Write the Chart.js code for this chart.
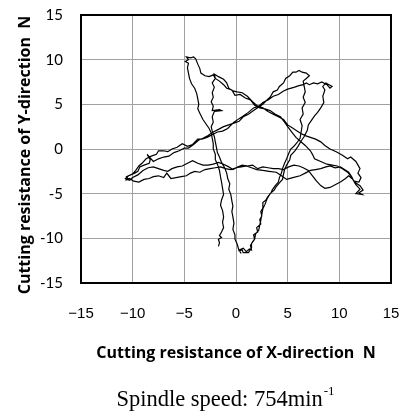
<!DOCTYPE html>
<html>
<head>
<meta charset="utf-8">
<script src="https://cdn.jsdelivr.net/npm/chart.js@4.4.1/dist/chart.umd.min.js"></script>
<style>
  html, body { margin: 0; padding: 0; background: #fff; }
</style>
</head>
<body>
<canvas id="chart" width="402" height="419"></canvas>
<script>
// axis labels and ticks
const xTitle = 'Cutting resistance of X-direction  N';
const yTitle = 'Cutting resistance of Y-direction  N';
const captionText = 'Spindle speed: 754min';
const captionSup = '-1';
const axisMin = -15;
const axisMax = 15;
const tickStep = 5;

// trajectory in order (x, y) [N]
const bottomToPeakA = [
  [0.5,-11.7],[0.3,-11.3],[0.7,-11.1],[1.0,-11.5],[1.3,-11.2],[1.5,-11.3],[1.4,-10.8],[1.6,-10.4],
  [1.8,-10.1],[1.7,-9.6],[2.1,-9.3],[2.0,-8.8],[2.4,-8.4],[2.3,-7.9],[2.5,-7.5],[2.4,-7.0],
  [2.6,-6.6],[2.6,-6.0],[2.9,-5.7],[3.1,-5.3],[3.4,-4.9],[3.5,-4.6],[3.8,-4.1],[4.1,-3.7],
  [4.2,-3.2],[4.4,-2.7],[4.5,-2.2],[4.7,-1.6],[4.9,-1.1],[5.1,-0.5],[5.3,0.0],[5.6,0.3],
  [5.9,0.7],[6.2,1.2],[6.3,1.9],[6.4,2.6],[6.2,3.3],[6.5,3.9],[6.4,4.6],[6.7,5.2],
  [6.5,5.8],[6.7,6.4],[6.6,7.0],[6.5,7.6],[6.8,7.9],[7.1,8.2],[6.8,8.5],[6.4,8.6],
  [6.1,8.8],[5.8,8.6]
];
const peakAToLeft = [
  [5.5,8.6],[5.2,8.2],[4.8,7.9],[4.6,7.4],[4.2,7.0],[4.0,6.6],[3.6,6.4],[3.3,5.8],
  [3.0,5.5],[2.6,5.0],[2.2,4.7],[1.7,4.3],[1.2,3.9],[0.7,3.6],[0.3,3.1],[-0.2,2.9],
  [-0.7,2.7],[-1.2,2.5],[-1.7,2.2],[-2.2,1.9],[-2.7,1.5],[-3.2,1.2],[-3.6,1.0],[-4.1,0.5],
  [-4.6,0.1],[-5.0,0.1],[-5.5,-0.2],[-6.0,-0.4],[-6.5,-0.8],[-7.0,-0.9],[-7.5,-1.1],[-8.0,-1.4],
  [-8.6,-0.6],[-8.3,-1.2],[-8.4,-1.6],[-8.9,-1.8],[-9.3,-2.0],[-9.5,-2.5],[-9.8,-2.7],[-10.2,-2.9],
  [-10.6,-3.1],[-10.4,-3.4],[-10.7,-3.5],[-10.3,-3.3]
];
const leftToRightA = [
  [-9.9,-3.6],[-9.4,-3.7],[-8.9,-3.4],[-8.4,-3.3],[-8.0,-3.1],[-7.5,-3.0],[-7.0,-3.2],[-6.7,-2.7],
  [-6.3,-3.3],[-5.8,-3.2],[-5.3,-3.1],[-4.8,-3.0],[-4.4,-2.7],[-4.0,-2.5],[-3.5,-2.6],[-3.0,-2.3],
  [-2.5,-2.2],[-2.0,-2.1],[-1.5,-2.0],[-1.0,-2.2],[-0.5,-2.3],[0.0,-2.1],[0.5,-2.0],[1.0,-1.9],
  [1.5,-2.1],[2.0,-2.3],[2.6,-2.4],[3.2,-2.5],[3.9,-2.6],[4.4,-3.0],[4.9,-3.4],[5.5,-3.2],
  [6.2,-3.0],[6.7,-2.7],[7.2,-2.4],[7.7,-2.3],[8.2,-2.2],[8.7,-2.0],[9.1,-1.9],[9.6,-2.1],
  [10.1,-2.0],[10.5,-2.3],[10.9,-2.6],[11.2,-3.1],[11.4,-3.6],[11.9,-3.7],[12.1,-3.2],[11.8,-2.7],
  [12.0,-2.2]
];
const rightToTopA = [
  [11.6,-1.4],[11.1,-0.9],[10.8,-1.1],[10.3,-0.7],[9.7,-0.3],[9.1,0.0],[8.6,0.4],[8.2,0.8],
  [7.7,1.1],[7.2,1.3],[6.7,1.5],[6.2,1.8],[5.8,2.1],[5.4,2.4],[5.0,2.7],[4.6,3.3],
  [4.1,3.6],[3.6,3.9],[3.1,4.2],[2.6,4.6],[2.1,4.8],[1.6,5.3],[1.1,5.9],[0.6,6.3],
  [0.1,6.4],[-0.3,6.5],[-0.7,6.8],[-0.9,7.4],[-1.2,7.8],[-1.7,8.1],[-2.1,8.4],[-2.0,7.9],
  [-2.3,7.4],[-2.1,6.9],[-2.3,6.3],[-2.2,5.8],[-2.4,5.3],[-2.2,4.8],[-2.3,4.3],[-1.6,4.4],
  [-1.4,4.3],[-2.1,4.2],[-2.3,3.6],[-2.2,3.0],[-2.4,2.5],[-2.3,2.0],[-2.1,1.4],[-2.0,0.8],
  [-1.9,0.2],[-1.8,-0.4],[-1.6,-0.9],[-1.4,-1.5],[-1.1,-2.1],[-0.9,-2.7],[-0.8,-3.3],[-0.6,-3.9],
  [-0.7,-4.5],[-0.5,-5.1],[-0.4,-5.8],[-0.3,-6.4],[-0.4,-7.0],[-0.3,-7.6],[-0.2,-8.3],[-0.3,-9.0],
  [-0.1,-9.6],[-0.1,-10.1],[0.1,-10.6],[0.2,-11.0],[0.3,-11.4],[0.6,-11.3],[0.7,-11.6]
];
const bottomToPeakB = [
  [1.2,-11.6],[1.5,-11.1],[1.5,-10.6],[1.8,-10.1],[1.9,-9.5],[2.2,-9.1],[2.3,-8.5],[2.4,-8.0],
  [2.5,-7.3],[2.6,-6.7],[2.8,-6.2],[3.0,-5.6],[3.3,-5.0],[3.7,-4.6],[3.9,-4.2],[4.2,-3.8],
  [4.5,-3.4],[4.6,-2.8],[4.7,-2.3],[4.9,-1.8],[5.2,-1.2],[5.3,-0.7],[5.7,-0.2],[6.0,0.3],
  [6.3,0.9],[6.6,1.4],[6.9,2.1],[7.0,2.7],[7.3,3.2],[7.6,3.7],[7.9,4.1],[8.2,4.6],
  [8.5,5.2],[8.4,5.9],[8.6,6.6],[8.4,7.0],[8.7,7.4],[9.0,7.2],[9.3,7.0],[9.1,6.8],
  [8.8,7.2],[8.3,7.5],[7.9,7.3],[7.5,7.4],[7.1,7.2],[6.8,7.4],[6.5,7.2],[6.1,7.1],
  [5.6,6.9],[5.0,6.7],[4.6,6.5],[4.1,6.1],[3.6,5.9],[3.1,5.5],[2.6,5.2],[2.2,4.8],
  [1.7,4.6],[1.2,4.1],[0.7,3.7],[0.3,3.4],[-0.2,3.0],[-0.8,2.3],[-1.3,2.0],[-1.8,1.9],
  [-2.3,1.6],[-2.8,1.3],[-3.3,1.1],[-3.7,1.1],[-4.2,0.5],[-4.7,0.3],[-5.2,0.6],[-5.7,0.2],
  [-6.2,0.0],[-6.6,-0.3],[-7.0,-0.2],[-7.5,-0.2],[-7.7,-0.6],[-8.2,-0.8],[-8.7,-1.1],[-9.1,-1.6],
  [-9.4,-1.9],[-9.7,-2.4],[-10.0,-2.8],[-10.4,-3.0],[-10.7,-3.3],[-10.3,-3.5],[-10.0,-3.2]
];
const leftToRightB = [
  [-9.5,-2.9],[-9.0,-2.4],[-8.5,-2.1],[-8.0,-2.0],[-7.5,-2.2],[-7.0,-2.4],[-6.6,-2.5],[-6.2,-2.2],
  [-5.7,-2.0],[-5.2,-1.9],[-4.7,-1.6],[-4.2,-1.3],[-3.7,-1.6],[-3.2,-1.8],[-2.7,-1.8],[-2.2,-1.7],
  [-1.7,-1.5],[-1.2,-1.7],[-0.7,-2.0],[-0.3,-2.3],[0.2,-2.0],[0.6,-1.8],[1.1,-1.9],[1.6,-1.8],
  [2.1,-2.2],[2.6,-2.0],[3.1,-2.1],[3.6,-2.2],[4.1,-2.2],[4.6,-2.3],[5.1,-2.0],[5.6,-1.8],
  [6.1,-1.9],[6.5,-2.1],[7.0,-2.4],[7.4,-3.0],[7.8,-3.6],[8.2,-4.1],[8.6,-4.4],[9.1,-4.3],
  [9.6,-4.0],[10.1,-3.7],[10.6,-3.3],[10.9,-3.0],[11.3,-3.4],[11.6,-3.8],[12.0,-4.1],[12.3,-4.6],
  [11.9,-4.9],[12.2,-5.1],[11.6,-5.0],[12.0,-4.5]
];
const rightToTopB = [
  [11.6,-4.0],[11.4,-3.6],[11.1,-3.0],[10.8,-2.6],[10.3,-2.2],[9.8,-1.9],[9.3,-1.8],[8.8,-1.7],
  [8.2,-1.4],[7.6,-1.1],[7.4,-0.6],[7.2,-0.2],[6.7,0.4],[6.2,0.9],[5.8,1.3],[5.4,1.9],
  [5.0,2.5],[4.7,3.0],[4.3,3.6],[3.8,3.9],[3.3,4.3],[2.8,4.5],[2.3,4.6],[1.8,4.9],
  [1.4,5.5],[0.9,5.7],[0.4,6.1],[-0.1,6.0],[-0.4,6.6],[-0.9,6.8],[-1.2,7.2],[-1.6,7.6],
  [-2.0,7.9],[-2.2,8.3],[-2.6,8.1],[-3.0,8.2],[-3.4,8.5],[-3.5,9.0],[-3.7,9.5],[-3.9,10.1],
  [-4.1,10.3],[-4.4,10.2],[-4.8,10.3],[-4.6,10.0],[-4.9,9.8],[-4.6,9.6],[-4.7,9.1],[-4.6,8.5],
  [-4.5,7.9],[-4.3,7.3],[-4.0,6.8],[-3.8,6.2],[-3.7,5.6],[-3.6,5.0],[-3.7,4.5],[-3.5,4.0],
  [-3.2,3.3],[-2.9,2.8],[-2.6,2.3],[-2.4,1.8],[-2.3,1.2],[-2.2,0.6],[-2.2,0.0],[-2.0,-0.6],
  [-2.0,-1.2],[-1.8,-1.7],[-1.6,-2.4],[-1.5,-3.1],[-1.4,-3.7],[-1.3,-4.4],[-1.2,-5.1],[-1.4,-5.7],
  [-1.5,-6.3],[-1.3,-6.9],[-1.2,-7.6],[-1.3,-8.2],[-1.2,-8.8],[-1.4,-9.3],[-1.6,-9.7],[-1.4,-9.9],
  [-1.7,-10.1],[-1.6,-10.5],[-1.7,-10.9]
];

const segments = [bottomToPeakA, peakAToLeft, leftToRightA, rightToTopA, bottomToPeakB, leftToRightB, rightToTopB];
const points = segments.flat().map(([x, y]) => ({ x, y }));

// outer frame of the plot
const framePlugin = {
  id: 'frame',
  afterDraw(chart) {
    const { ctx, chartArea: a } = chart;
    ctx.save();
    ctx.strokeStyle = '#000';
    ctx.lineWidth = 2;
    ctx.strokeRect(a.left, a.top, a.right - a.left, a.bottom - a.top);
    ctx.restore();
  }
};

// y title sits a bit below the middle of the axis in the original
const yTitlePlugin = {
  id: 'yTitle',
  afterDraw(chart) {
    const ctx = chart.ctx;
    ctx.save();
    ctx.translate(25, 155);
    ctx.rotate(-Math.PI / 2);
    ctx.fillStyle = '#000';
    ctx.textAlign = 'center';
    ctx.textBaseline = 'middle';
    ctx.font = 'bold 16px "Open Sans", Lato, sans-serif';
    ctx.fillText(yTitle, 0, 0);
    ctx.restore();
  }
};

// "Spindle speed" line under the chart, with superscript
const captionPlugin = {
  id: 'caption',
  afterDraw(chart) {
    const ctx = chart.ctx;
    const mainFont = '22.5px "Liberation Serif", "DejaVu Serif", serif';
    const supFont = '13px "Liberation Serif", "DejaVu Serif", serif';
    ctx.save();
    ctx.fillStyle = '#000';
    ctx.textBaseline = 'alphabetic';
    ctx.textAlign = 'left';
    ctx.font = mainFont;
    const w1 = ctx.measureText(captionText).width;
    ctx.font = supFont;
    const w2 = ctx.measureText(captionSup).width;
    const x0 = 225 - (w1 + w2) / 2;
    ctx.font = mainFont;
    ctx.fillText(captionText, x0, 406);
    ctx.font = supFont;
    ctx.fillText(captionSup, x0 + w1 + 1, 395);
    ctx.restore();
  }
};

const ctx = document.getElementById('chart').getContext('2d');
const chart = new Chart(ctx, {
  type: 'scatter',
  data: {
    datasets: [{
      data: points,
      showLine: true,
      borderColor: '#000',
      borderWidth: 1.2,
      pointRadius: 0,
      tension: 0
    }]
  },
  options: {
    responsive: false,
    animation: false,
    devicePixelRatio: 1,
    layout: { padding: { top: 15, right: 11, left: 0, bottom: 0 } },
    plugins: { legend: { display: false }, tooltip: { enabled: false } },
    scales: {
      x: {
        type: 'linear',
        min: axisMin,
        max: axisMax,
        ticks: {
          stepSize: tickStep,
          padding: 22,
          maxRotation: 0,
          autoSkip: false,
          color: '#000',
          font: { family: '"Liberation Sans", Arial, sans-serif', size: 15 },
          callback: (v) => (v < 0 ? '\u2212' + Math.abs(v) : String(v))
        },
        grid: { color: '#a0a0a0', lineWidth: 1, drawTicks: false },
        border: { color: '#000', width: 2 },
        title: {
          display: true,
          text: xTitle,
          color: '#000',
          font: { family: '"Open Sans", Lato, sans-serif', size: 16, weight: 'bold' },
          padding: { top: 0, bottom: 56 }
        },
        afterFit(scale) {
          scale.height = 136;
          scale.paddingLeft = 0;
          scale.paddingRight = 0;
        }
      },
      y: {
        type: 'linear',
        min: axisMin,
        max: axisMax,
        ticks: {
          stepSize: tickStep,
          padding: 18,
          autoSkip: false,
          color: '#000',
          font: { family: 'Lato, "Open Sans", sans-serif', size: 15 }
        },
        grid: { color: '#a0a0a0', lineWidth: 1, drawTicks: false },
        border: { color: '#000', width: 2 },
        title: { display: false },
        afterFit(scale) {
          scale.width = 81;
          scale.paddingTop = 0;
          scale.paddingBottom = 0;
        }
      }
    }
  },
  plugins: [framePlugin, yTitlePlugin, captionPlugin]
});
</script>
</body>
</html>
